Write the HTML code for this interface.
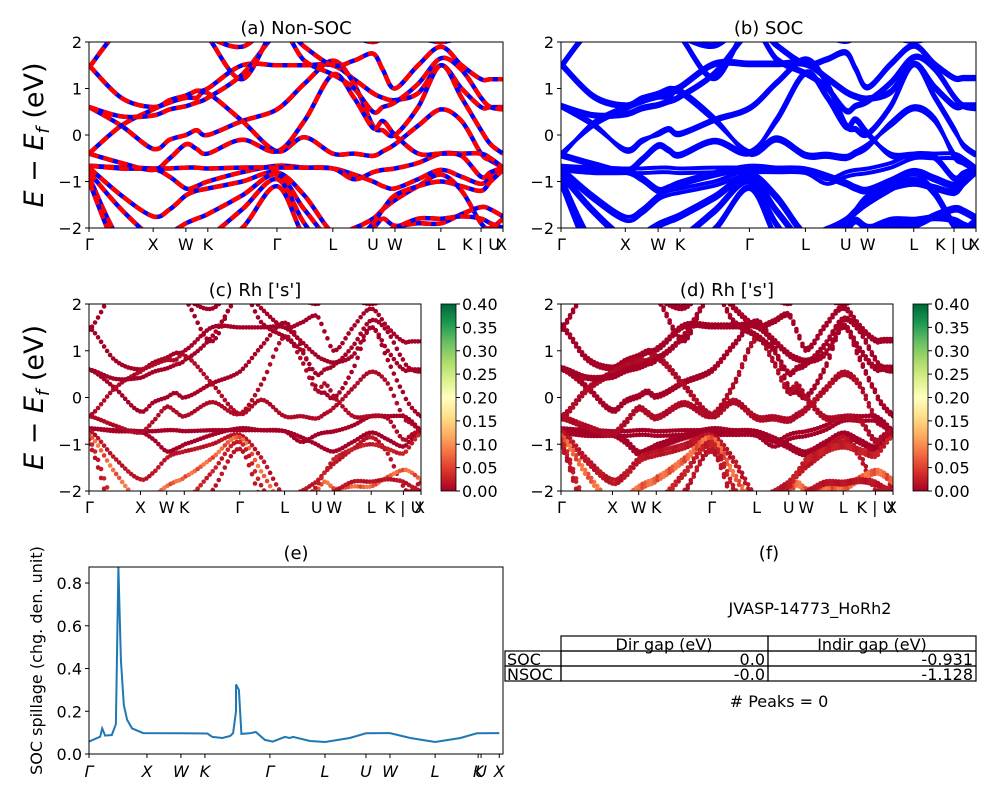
<!DOCTYPE html>
<html><head><meta charset="utf-8">
<style>
html,body{margin:0;padding:0;background:#fff;}
svg{display:block;font-family:"DejaVu Sans","Liberation Sans",sans-serif;}
</style></head>
<body>
<svg id="fig" width="1000" height="800" viewBox="0 0 1000 800">
<defs>
<linearGradient id="rdylgn" x1="0" y1="1" x2="0" y2="0">
<stop offset="0" stop-color="#a50026"/><stop offset="0.1" stop-color="#d73027"/><stop offset="0.2" stop-color="#f46d43"/><stop offset="0.3" stop-color="#fdae61"/><stop offset="0.4" stop-color="#fee08b"/><stop offset="0.5" stop-color="#ffffbf"/><stop offset="0.6" stop-color="#d9ef8b"/><stop offset="0.7" stop-color="#a6d96a"/><stop offset="0.8" stop-color="#66bd63"/><stop offset="0.9" stop-color="#1a9850"/><stop offset="1" stop-color="#006837"/>
</linearGradient>
</defs>
</svg>
<script>
// ---- data ----
const kTickLabels = ["Γ","X","W","K","Γ","L","U","W","L","K | U","X"];
const kTickFrac = [0, 0.155, 0.234, 0.287, 0.454, 0.589, 0.686, 0.739, 0.850, 0.947, 1];
const kGrid = [0,0.078,0.155,0.195,0.234,0.26,0.287,0.37,0.454,0.52,0.589,0.64,0.686,0.71,0.739,0.795,0.85,0.9,0.947,0.97,1];
const band1 = [1.5,0.8,0.6,0.75,0.85,0.95,1.0,1.5,1.5,1.5,1.5,1.2,0.9,0.8,0.75,0.9,1.5,1.0,0.6,0.6,0.6];
const band2 = [0.6,0.2,-0.3,-0.1,0.0,0.1,0.0,0.3,0.55,1.1,1.6,1.1,0.2,0.1,0.0,0.6,1.5,0.8,0.1,-0.2,-0.4];
const band3 = [-0.4,0.2,0.55,0.7,0.8,0.8,0.9,0.3,-0.35,-0.05,-0.4,-0.4,-0.45,-0.35,-0.2,0.2,0.55,0.3,-0.4,-0.55,-0.7];
const band4 = [-0.66,-0.7,-0.73,-0.9,-1.15,-1.1,-1.0,-0.8,-0.66,-0.7,-0.72,-0.85,-1.0,-1.1,-1.15,-0.95,-0.75,-0.9,-1.05,-0.9,-0.7];
const band5 = [-0.66,-0.72,-0.72,-0.72,-0.7,-0.7,-0.72,-0.7,-0.7,-0.7,-0.72,-0.95,-0.8,-0.75,-0.72,-0.6,-0.4,-0.4,-0.4,-0.5,-0.7];
const band6 = [-0.7,-1.3,-1.75,-1.6,-1.3,-1.2,-1.15,-1.0,-0.8,-1.3,-2.1,-2.0,-1.8,-1.6,-1.4,-1.1,-0.85,-1.2,-1.9,-2.0,-1.8];
const band7 = [-0.8,-1.6,-2.2,-2.1,-1.9,-1.8,-1.7,-1.3,-0.85,-1.6,-2.3,-2.2,-2.0,-1.8,-1.95,-1.9,-1.9,-1.7,-1.55,-1.6,-1.75];
const band8 = [-0.9,-2.3,-2.5,-2.4,-2.3,-2.2,-2.2,-1.6,-0.95,-1.9,-2.6,-2.3,-1.9,-1.6,-1.3,-1.1,-1.0,-1.1,-1.2,-1.0,-0.75];
const band9 = [-1.0,-2.6,-2.8,-2.7,-2.6,-2.5,-2.4,-2.0,-1.1,-2.2,-2.8,-2.6,-2.3,-2.1,-2.0,-1.8,-1.8,-1.75,-1.8,-1.9,-2.0];
const band10 = [1.45,2.3,2.5,2.4,2.3,2.2,2.1,1.9,2.4,1.9,1.5,1.6,1.75,1.4,1.0,1.5,1.9,1.5,1.2,1.2,1.2];
const band11 = [-0.4,-0.6,-0.75,-0.5,-0.2,-0.3,-0.4,-0.1,-0.35,0.3,1.3,0.8,0.15,0.3,0.0,-0.4,-0.4,-0.45,-0.9,-0.8,-0.7];
const band12 = [0.6,0.4,0.42,0.55,0.62,0.7,0.8,1.3,2.2,2.4,2.3,2.1,2.0,2.1,2.3,2.1,2.0,2.1,2.2,2.2,2.3];
const band13 = [2.5,2.3,2.2,2.1,2.1,2.1,2.1,1.2,2.3,1.6,1.3,1.0,0.5,0.6,0.7,1.1,1.65,1.4,0.8,0.6,0.55];
const bands = [band1,band2,band3,band4,band5,band6,band7,band8,band9,band10,band11,band12,band13];
const socShift = [0.06,0.05,0.07,0.08,0.1,0.09,0.08,0.07,0.06,0.05,0.06,0.05,0.05];
const rhWeight = [0.0,0.0,0.01,0.0,0.0,0.02,0.09,0.03,0.02,0.0,0.01,0.0,0.0];
const eTicks = [2,1,0,-1,-2];
const cbTicks = [0.00,0.05,0.10,0.15,0.20,0.25,0.30,0.35,0.40];
const spillX = [0,0.027,0.032,0.039,0.055,0.065,0.071,0.077,0.084,0.092,0.104,0.131,0.22,0.286,0.298,0.322,0.341,0.348,0.355,0.355,0.362,0.368,0.388,0.403,0.425,0.444,0.473,0.485,0.493,0.534,0.57,0.63,0.669,0.727,0.776,0.836,0.897,0.937,0.991];
const spillY = [0.058,0.081,0.12,0.086,0.089,0.14,0.875,0.44,0.23,0.16,0.12,0.098,0.097,0.096,0.08,0.075,0.084,0.098,0.2,0.325,0.3,0.094,0.097,0.103,0.066,0.058,0.08,0.075,0.08,0.061,0.056,0.075,0.097,0.098,0.075,0.056,0.075,0.097,0.098];
const spillTickLabels = ["Γ","X","W","K","Γ","L","U","W","L","K","U","X"];
const spillTickFrac = [0,0.14,0.222,0.28,0.437,0.57,0.669,0.727,0.836,0.94,0.947,0.991];
const spillYTicks = [0.0,0.2,0.4,0.6,0.8];

// ---- helpers ----
const NS="http://www.w3.org/2000/svg";
const svg=document.getElementById('fig');
function mk(tag,attrs,parent){const e=document.createElementNS(NS,tag);for(const k in attrs)e.setAttribute(k,attrs[k]);(parent||svg).appendChild(e);return e;}
function txt(s,x,y,size,anchor,parent,extra){const t=mk('text',Object.assign({x:x,y:y,'font-size':size,'text-anchor':anchor||'middle',fill:'#000'},extra||{}),parent);t.textContent=s;return t;}
function smooth(pts){let d='M'+pts[0][0].toFixed(1)+','+pts[0][1].toFixed(1);
 for(let i=0;i<pts.length-1;i++){const p0=pts[Math.max(0,i-1)],p1=pts[i],p2=pts[i+1],p3=pts[Math.min(pts.length-1,i+2)];
 const c1=[p1[0]+(p2[0]-p0[0])/6,p1[1]+(p2[1]-p0[1])/6],c2=[p2[0]-(p3[0]-p1[0])/6,p2[1]-(p3[1]-p1[1])/6];
 d+='C'+c1[0].toFixed(1)+','+c1[1].toFixed(1)+' '+c2[0].toFixed(1)+','+c2[1].toFixed(1)+' '+p2[0].toFixed(1)+','+p2[1].toFixed(1);}return d;}
function interp(arr,f){for(let i=0;i<kGrid.length-1;i++){if(f<=kGrid[i+1]){const t=(f-kGrid[i])/(kGrid[i+1]-kGrid[i]);
 const p0=arr[Math.max(0,i-1)],p1=arr[i],p2=arr[i+1],p3=arr[Math.min(arr.length-1,i+2)];
 const t2=t*t,t3=t2*t;return 0.5*((2*p1)+(-p0+p2)*t+(2*p0-5*p1+4*p2-p3)*t2+(-p0+3*p1-3*p2+p3)*t3);}}return arr[arr.length-1];}
function cmap(v){const s=[[0,[165,0,38]],[0.1,[215,48,39]],[0.2,[244,109,67]],[0.3,[253,174,97]],[0.4,[254,224,139]],[0.5,[255,255,191]]];
 const t=Math.min(0.5,v/0.4);for(let i=0;i<s.length-1;i++){if(t<=s[i+1][0]){const u=(t-s[i][0])/(s[i+1][0]-s[i][0]);const c=s[i][1].map((a,j)=>Math.round(a+(s[i+1][1][j]-a)*u));return 'rgb('+c.join(',')+')';}}return 'rgb(255,255,191)';}

let clipId=0;
function bandAxes(name,x0,x1,y0,y1,title,showYLabel,showYTicks){
 const g=mk('g',{});
 
 
 const cid='clip'+(clipId++);
 const cp=mk('clipPath',{id:cid},g);mk('rect',{x:x0,y:y0,width:x1-x0,height:y1-y0},cp);
 const xs=f=>x0+f*(x1-x0), ys=e=>y0+(2-e)/4*(y1-y0);
 const plot=mk('g',{'clip-path':'url(#'+cid+')'},g);
 
 
 const fr=mk('rect',{x:x0,y:y0,width:x1-x0,height:y1-y0,fill:'none',stroke:'#000','stroke-width':1},g);
 
 
 eTicks.forEach(e=>{const y=ys(e);mk('line',{x1:x0-4,x2:x0,y1:y,y2:y,stroke:'#000'},g);
  const t=txt(e<0?'−'+Math.abs(e):String(e),x0-7,y+6,16,'end',g);
  
  });
 kTickFrac.forEach((f,i)=>{const x=xs(f);mk('line',{x1:x,x2:x,y1:y1,y2:y1+4,stroke:'#000'},g);
  const t=txt(kTickLabels[i],x,y1+22,16,i==kTickFrac.length-1?'end':(i==0?'start':'middle'),g,i==0?{dx:-4}:(i==kTickFrac.length-1?{dx:4}:{}));
  
  });
 const tt=txt(title,(x0+x1)/2,y0-8,18,'middle',g);
 
 
 if(showYLabel){const yl=mk('text',{x:0,y:0,'font-size':27,'text-anchor':'middle',transform:'translate(43,'+((y0+y1)/2)+') rotate(-90)'},g);
  yl.innerHTML='<tspan font-style="italic">E</tspan> − <tspan font-style="italic">E</tspan><tspan font-style="italic" font-size="18" dy="6">f</tspan><tspan dy="-6"> (eV)</tspan>';
  
  }
 return {plot,xs,ys,g};
}
function colorbar(name,x,y0,y1){
 const g=mk('g',{});
 
 
 mk('rect',{x:x,y:y0,width:15,height:y1-y0,fill:'url(#rdylgn)',stroke:'#000','stroke-width':0.8},g);
 cbTicks.forEach(v=>{const y=y1-v/0.4*(y1-y0);mk('line',{x1:x+15,x2:x+19,y1:y,y2:y,stroke:'#000'},g);
  const t=txt(v.toFixed(2),x+21,y+6,16,'start',g);
  
  });
}

// (a) non-SOC
const A=bandAxes('panel-a-non-soc',89,503,42,228,'(a) Non-SOC',true);
bands.forEach((b,i)=>{const pts=kGrid.map((f,j)=>[A.xs(f),A.ys(b[j])]);const d=smooth(pts);
 const l1=mk('path',{d:d,fill:'none',stroke:'#0000ff','stroke-width':4.5},A.plot);
 
 
 const l2=mk('path',{d:d,fill:'none',stroke:'#ff0000','stroke-width':4.5,'stroke-dasharray':'10 5'},A.plot);
 
 });

// (b) SOC
const B=bandAxes('panel-b-soc',561,976,42,228,'(b) SOC',false);
bands.forEach((b,i)=>{[0,socShift[i]].forEach((s,k)=>{const pts=kGrid.map((f,j)=>[B.xs(f),B.ys(b[j]+(b[j]<0?-s:s)*k)]);
 const l=mk('path',{d:smooth(pts),fill:'none',stroke:'#0000ff','stroke-width':4},B.plot);
 
 });});

// (c),(d) projections
function projPanel(name,x0,x1,title,ylabel,soc){
 const P=bandAxes(name,x0,x1,304,491,title,ylabel);
 const N=110;
 bands.forEach((b,i)=>{const reps=soc?[0,socShift[i]]:[0];
  reps.forEach(s=>{for(let n=0;n<=N;n++){const f=n/N;const e=interp(b,f)+(b[0]<0?-s:s);
   const w=rhWeight[i]*(0.5+0.5*Math.abs(Math.sin(n*0.7+i)));
   const c=mk('circle',{cx:P.xs(f),cy:P.ys(e),r:2.3,fill:cmap(w)},P.plot);
   
   }});});
 return P;
}
projPanel('panel-c-rh-s',89,421,"(c)  Rh ['s']",true,false);
colorbar('colorbar-c',441,304,491);
projPanel('panel-d-rh-s',561,893,"(d) Rh ['s']",false,true);
colorbar('colorbar-d',913,304,491);

// (e) spillage
(function(){
 const x0=89,x1=503,y0=567,y1=754,ymax=0.875;
 const g=mk('g',{});
 
 
 const xs=f=>x0+f*(x1-x0), ys=v=>y1-v/ymax*(y1-y0);
 const cp=mk('clipPath',{id:'clipe'},g);mk('rect',{x:x0,y:y0,width:x1-x0,height:y1-y0},cp);
 const pts=spillX.map((f,i)=>[xs(f),ys(spillY[i])]);
 const line=mk('polyline',{points:pts.map(p=>p[0].toFixed(1)+','+p[1].toFixed(1)).join(' '),fill:'none',stroke:'#1f77b4','stroke-width':2,'clip-path':'url(#clipe)'},g);
 
 
 mk('rect',{x:x0,y:y0,width:x1-x0,height:y1-y0,fill:'none',stroke:'#000'},g);
 spillYTicks.forEach(v=>{const y=ys(v);mk('line',{x1:x0-4,x2:x0,y1:y,y2:y,stroke:'#000'},g);
  const t=txt(v.toFixed(1),x0-7,y+6,16,'end',g);
  
  });
 spillTickFrac.forEach((f,i)=>{const x=xs(f);mk('line',{x1:x,x2:x,y1:y1,y2:y1+4,stroke:'#000'},g);
  const t=txt(spillTickLabels[i],x,y1+23,16,'middle',g,{'font-style':'italic'});
  
  });
 const tt=txt('(e)',(x0+x1)/2,y0-8,18,'middle',g);
 
 
 const yl=txt('SOC spillage (chg. den. unit)',0,0,16,'middle',g,{transform:'translate(42,'+((y0+y1)/2)+') rotate(-90)'});
 
 
})();

// (f) table
(function(){
 const g=mk('g',{});
 
 
 const t1=txt('(f)',769,559,18,'middle',g);
 
 
 const t2=txt('JVASP-14773_HoRh2',810,614,16,'middle',g);
 
 
 const s={fill:'none',stroke:'#000','stroke-width':1.2};
 mk('rect',Object.assign({x:561,y:636,width:207,height:15},s),g);
 mk('rect',Object.assign({x:768,y:636,width:208,height:15},s),g);
 [[651,'SOC','0.0','-0.931'],[666,'NSOC','-0.0','-1.128']].forEach(r=>{
  mk('rect',Object.assign({x:505,y:r[0],width:56,height:15},s),g);
  mk('rect',Object.assign({x:561,y:r[0],width:207,height:15},s),g);
  mk('rect',Object.assign({x:768,y:r[0],width:208,height:15},s),g);
  const a=txt(r[1],507,r[0]+14,16,'start',g);
  const b=txt(r[2],765,r[0]+14,16,'end',g);
  const c=txt(r[3],973,r[0]+14,16,'end',g);
 });
 const h1=txt('Dir gap (eV)',664,650,16,'middle',g);
 const h2=txt('Indir gap (eV)',872,650,16,'middle',g);
 const p=txt('# Peaks = 0',779,707,16,'middle',g);
})();
</script>
</body></html>
